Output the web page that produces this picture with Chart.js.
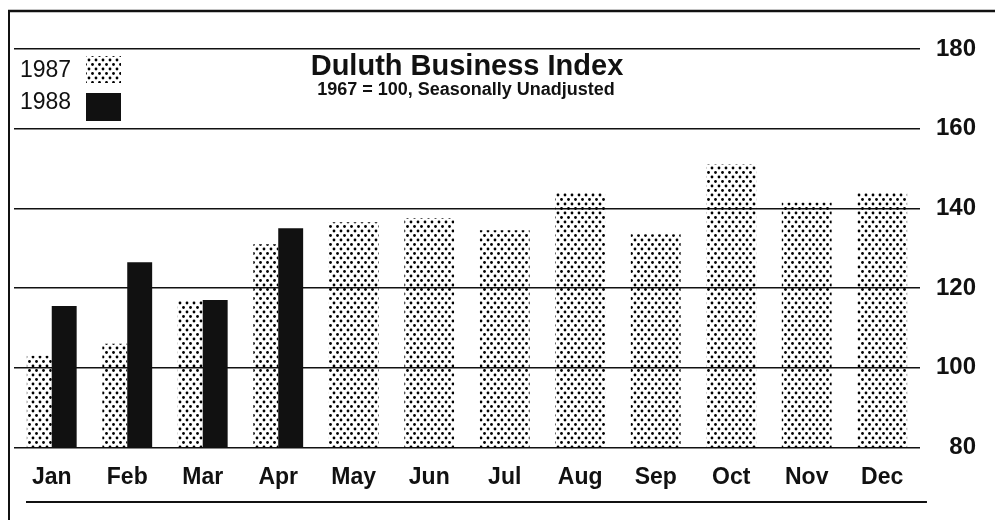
<!DOCTYPE html>
<html>
<head>
<meta charset="utf-8">
<script src="https://cdn.jsdelivr.net/npm/chart.js@4/dist/chart.umd.min.js"></script>
<style>
  html, body { margin: 0; padding: 0; background: #ffffff; }
  #wrap { position: relative; width: 995px; height: 520px; }
</style>
</head>
<body>
<div id="wrap"><canvas id="c"></canvas></div>
<script>
// ---- data ----
const months = ['Jan', 'Feb', 'Mar', 'Apr', 'May', 'Jun', 'Jul', 'Aug', 'Sep', 'Oct', 'Nov', 'Dec'];
const index1987 = [103, 106, 117, 131, 136.5, 137.5, 134.5, 144, 133.5, 151, 141.5, 144];
const index1988 = [115.5, 126.5, 117, 135, null, null, null, null, null, null, null, null];
const seriesLabels = ['1987', '1988'];
const yMin = 80;
const yMax = 180;
const yStep = 20;
const titleText = 'Duluth Business Index';
const subtitleText = '1967 = 100, Seasonally Unadjusted';

// ---- stipple pattern for 1987 bars ----
function makeStipple() {
  const t = document.createElement('canvas');
  t.width = 7; t.height = 9;
  const g = t.getContext('2d');
  g.fillStyle = '#000';
  g.beginPath(); g.arc(1.5, 1.5, 1.4, 0, Math.PI * 2); g.fill();
  g.beginPath(); g.arc(5, 6, 1.4, 0, Math.PI * 2); g.fill();
  return document.getElementById('c').getContext('2d').createPattern(t, 'repeat');
}
const stipple = makeStipple();
const INK = '#111111';

const decor = {
  id: 'decor',
  afterDraw(chart) {
    const ctx = chart.ctx;
    const ca = chart.chartArea;
    ctx.save();
    // scanned frame: top and left rules
    ctx.strokeStyle = INK;
    ctx.lineWidth = 2.5;
    ctx.beginPath(); ctx.moveTo(8, 11); ctx.lineTo(995, 11); ctx.stroke();
    ctx.lineWidth = 2;
    ctx.beginPath(); ctx.moveTo(9, 10); ctx.lineTo(9, 520); ctx.stroke();
    // rule under month labels
    ctx.beginPath(); ctx.moveTo(ca.left + 12, 502); ctx.lineTo(ca.right + 7, 502); ctx.stroke();

    // legend
    const ds = chart.data.datasets;
    ctx.fillStyle = INK;
    ctx.font = '23px "Liberation Sans", Arial, sans-serif';
    ctx.textBaseline = 'middle';
    ctx.textAlign = 'left';
    ctx.fillText(ds[0].label, 20, 71);
    ctx.fillText(ds[1].label, 20, 103);
    ctx.fillStyle = ds[0].backgroundColor;
    ctx.fillRect(86, 56, 35, 27);
    ctx.fillStyle = ds[1].backgroundColor;
    ctx.fillRect(86, 93, 35, 28);

    // title + subtitle
    ctx.fillStyle = INK;
    ctx.textAlign = 'center';
    ctx.font = 'bold 29px "Liberation Sans", Arial, sans-serif';
    ctx.fillText(titleText, 467, 67);
    ctx.font = 'bold 18px "Liberation Sans", Arial, sans-serif';
    ctx.fillText(subtitleText, 466, 90);
    ctx.restore();
  }
};

new Chart(document.getElementById('c'), {
  type: 'bar',
  data: {
    labels: months,
    datasets: [
      { label: seriesLabels[0], data: index1987, backgroundColor: stipple, borderWidth: 0, skipNull: true },
      { label: seriesLabels[1], data: index1988, backgroundColor: INK, borderWidth: 0, skipNull: true }
    ]
  },
  options: {
    responsive: true,
    maintainAspectRatio: false,
    animation: false,
    datasets: { bar: { categoryPercentage: 0.66, barPercentage: 1.0 } },
    layout: { padding: { top: 49, left: 14, right: 19, bottom: 13 } },
    plugins: {
      legend: { display: false },
      title: { display: false },
      tooltip: { enabled: false }
    },
    scales: {
      x: {
        grid: { display: false, drawTicks: false },
        border: { display: false },
        ticks: {
          color: INK,
          padding: 16,
          font: { family: '"Liberation Sans", Arial, sans-serif', size: 23, weight: 'bold' }
        }
      },
      y: {
        position: 'right',
        min: yMin,
        max: yMax,
        grid: { color: INK, lineWidth: 1.5, drawTicks: false },
        border: { display: false },
        ticks: {
          stepSize: yStep,
          color: INK,
          padding: 8,
          crossAlign: 'far',
          font: { family: '"Liberation Sans", Arial, sans-serif', size: 24, weight: 'bold' }
        }
      }
    }
  },
  plugins: [decor]
});
</script>
</body>
</html>
